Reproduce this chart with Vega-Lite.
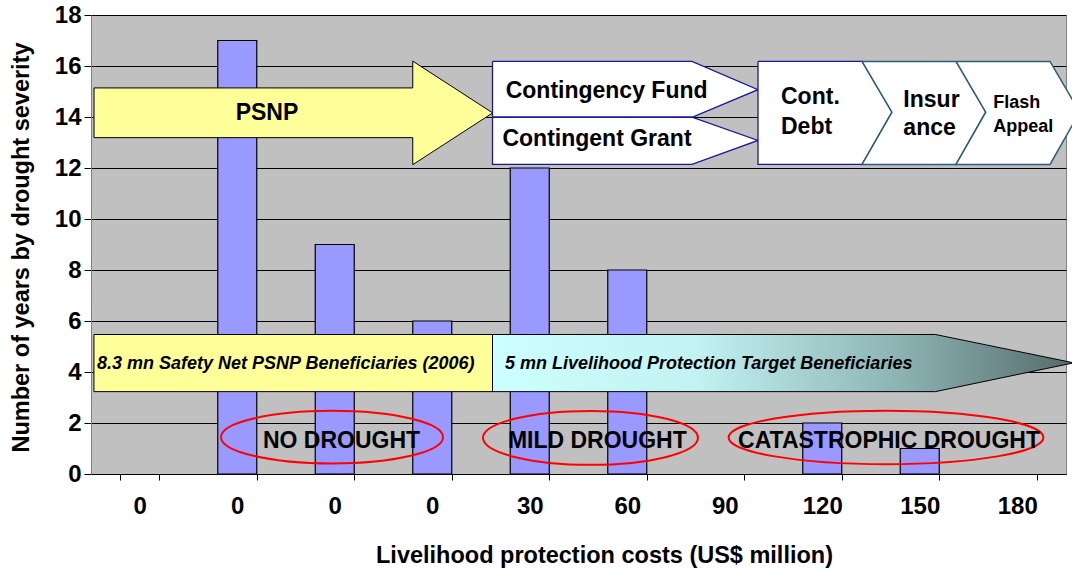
{
  "$schema": "https://vega.github.io/schema/vega-lite/v6.json",
  "width": 975,
  "height": 459,
  "autosize": {"type": "none"},
  "padding": {"left": 91, "top": 15, "right": 6, "bottom": 98},
  "background": "white",
  "config": {
    "view": {"fill": "#C0C0C0", "stroke": "#808080", "strokeWidth": 1},
    "font": "Liberation Sans",
    "axis": {
      "labelFont": "Liberation Sans",
      "titleFont": "Liberation Sans",
      "labelFontWeight": "bold",
      "titleFontWeight": "bold",
      "labelColor": "black",
      "titleColor": "black"
    },
    "axisY": {
      "grid": true,
      "gridColor": "#000000",
      "gridOpacity": 1,
      "gridWidth": 1,
      "domainColor": "#808080",
      "tickColor": "black",
      "tickSize": 7,
      "labelFontSize": 24,
      "labelPadding": 3,
      "titleFontSize": 23.5,
      "titleX": -58,
      "titleY": 232
    },
    "axisX": {
      "grid": false,
      "domainColor": "black",
      "tickColor": "black",
      "tickSize": 6,
      "tickBand": "extent",
      "labelFontSize": 24,
      "labelPadding": 14,
      "labelAngle": 0,
      "titleFontSize": 23.5,
      "titleX": 513,
      "titleY": 69
    }
  },
  "datasets": {
    "bars": [
      {"slot": 1, "cost": "0", "years": 0},
      {"slot": 2, "cost": "0", "years": 17},
      {"slot": 3, "cost": "0", "years": 9},
      {"slot": 4, "cost": "0", "years": 6},
      {"slot": 5, "cost": "30", "years": 12},
      {"slot": 6, "cost": "60", "years": 8},
      {"slot": 7, "cost": "90", "years": 0},
      {"slot": 8, "cost": "120", "years": 2},
      {"slot": 9, "cost": "150", "years": 1},
      {"slot": 10, "cost": "180", "years": 0}
    ],
    "shapes": [
      {"shape": "psnp", "i": 1, "x": 0.031, "y": 15.14},
      {"shape": "psnp", "i": 2, "x": 3.3, "y": 15.14},
      {"shape": "psnp", "i": 3, "x": 3.3, "y": 16.19},
      {"shape": "psnp", "i": 4, "x": 4.12, "y": 14.16},
      {"shape": "psnp", "i": 5, "x": 3.3, "y": 12.13},
      {"shape": "psnp", "i": 6, "x": 3.3, "y": 13.19},
      {"shape": "psnp", "i": 7, "x": 0.031, "y": 13.19},
      {"shape": "psnp", "i": 8, "x": 0.031, "y": 15.14},
      {"shape": "base", "i": 1, "x": 0.03, "y": 5.47},
      {"shape": "base", "i": 2, "x": 4.118, "y": 5.47},
      {"shape": "base", "i": 3, "x": 4.118, "y": 3.23},
      {"shape": "base", "i": 4, "x": 0.03, "y": 3.23},
      {"shape": "base", "i": 5, "x": 0.03, "y": 5.47},
      {"shape": "target", "i": 1, "x": 4.118, "y": 5.47},
      {"shape": "target", "i": 2, "x": 8.66, "y": 5.47},
      {"shape": "target", "i": 3, "x": 10.08, "y": 4.36},
      {"shape": "target", "i": 4, "x": 8.66, "y": 3.23},
      {"shape": "target", "i": 5, "x": 4.118, "y": 3.23},
      {"shape": "target", "i": 6, "x": 4.118, "y": 5.47},
      {"shape": "fund", "i": 1, "x": 4.118, "y": 16.18},
      {"shape": "fund", "i": 2, "x": 6.164, "y": 16.18},
      {"shape": "fund", "i": 3, "x": 6.841, "y": 15.07},
      {"shape": "fund", "i": 4, "x": 6.164, "y": 13.99},
      {"shape": "fund", "i": 5, "x": 4.118, "y": 13.99},
      {"shape": "fund", "i": 6, "x": 4.118, "y": 16.18},
      {"shape": "grant", "i": 1, "x": 4.118, "y": 13.99},
      {"shape": "grant", "i": 2, "x": 6.164, "y": 13.99},
      {"shape": "grant", "i": 3, "x": 6.841, "y": 13.08},
      {"shape": "grant", "i": 4, "x": 6.164, "y": 12.14},
      {"shape": "grant", "i": 5, "x": 4.118, "y": 12.14},
      {"shape": "grant", "i": 6, "x": 4.118, "y": 13.99},
      {"shape": "debt", "i": 1, "x": 6.841, "y": 16.18},
      {"shape": "debt", "i": 2, "x": 7.908, "y": 16.18},
      {"shape": "debt", "i": 3, "x": 8.215, "y": 14.19},
      {"shape": "debt", "i": 4, "x": 7.908, "y": 12.14},
      {"shape": "debt", "i": 5, "x": 6.841, "y": 12.14},
      {"shape": "debt", "i": 6, "x": 6.841, "y": 16.18},
      {"shape": "insur", "i": 1, "x": 7.908, "y": 16.18},
      {"shape": "insur", "i": 2, "x": 8.872, "y": 16.18},
      {"shape": "insur", "i": 3, "x": 9.177, "y": 14.19},
      {"shape": "insur", "i": 4, "x": 8.872, "y": 12.14},
      {"shape": "insur", "i": 5, "x": 7.908, "y": 12.14},
      {"shape": "insur", "i": 6, "x": 8.215, "y": 14.19},
      {"shape": "insur", "i": 7, "x": 7.908, "y": 16.18},
      {"shape": "flash", "i": 1, "x": 8.872, "y": 16.18},
      {"shape": "flash", "i": 2, "x": 9.836, "y": 16.18},
      {"shape": "flash", "i": 3, "x": 10.14, "y": 14.19},
      {"shape": "flash", "i": 4, "x": 9.836, "y": 12.14},
      {"shape": "flash", "i": 5, "x": 8.872, "y": 12.14},
      {"shape": "flash", "i": 6, "x": 9.177, "y": 14.19},
      {"shape": "flash", "i": 7, "x": 8.872, "y": 16.18}
    ],
    "notes": [
      {"group": "psnp", "text": "PSNP", "x": 1.805, "y": 13.89},
      {"group": "box", "text": "Contingency Fund", "x": 4.253, "y": 14.75},
      {"group": "box", "text": "Contingent Grant", "x": 4.22, "y": 12.85},
      {"group": "box", "text": "Cont.", "x": 7.077, "y": 14.51},
      {"group": "box", "text": "Debt", "x": 7.077, "y": 13.32},
      {"group": "box", "text": "Insur", "x": 8.332, "y": 14.41},
      {"group": "box", "text": "ance", "x": 8.332, "y": 13.28},
      {"group": "small", "text": "Flash", "x": 9.253, "y": 14.34},
      {"group": "small", "text": "Appeal", "x": 9.253, "y": 13.41},
      {"group": "band", "text": "8.3 mn Safety Net PSNP Beneficiaries (2006)", "x": 0.062, "y": 4.13},
      {"group": "band", "text": "5 mn Livelihood Protection Target Beneficiaries", "x": 4.246, "y": 4.13}
    ],
    "zones": [
      {"zone": "NO DROUGHT", "x": 2.569, "y": 1.015, "cx": 2.472, "cy": 1.445},
      {"zone": "MILD DROUGHT", "x": 5.193, "y": 1.015, "cx": 5.123, "cy": 1.417},
      {"zone": "CATASTROPHIC DROUGHT", "x": 8.185, "y": 1.015, "cx": 8.154, "cy": 1.433}
    ]
  },
  "resolve": {"scale": {"x": "independent"}, "axis": {"x": "independent"}},
  "layer": [
    {
      "data": {"name": "bars"},
      "transform": [{"filter": "datum.years > 0"}],
      "mark": {"type": "bar", "fill": "#9999FF", "stroke": "black", "strokeWidth": 1.2},
      "encoding": {
        "x": {
          "field": "slot",
          "type": "ordinal",
          "title": "Livelihood protection costs (US$ million)",
          "scale": {"domain": [1, 2, 3, 4, 5, 6, 7, 8, 9, 10], "paddingInner": 0.6, "paddingOuter": 0.3},
          "axis": {"labelExpr": "['0','0','0','0','30','60','90','120','150','180'][datum.value - 1]"}
        },
        "y": {
          "field": "years",
          "type": "quantitative",
          "title": "Number of years by drought severity",
          "scale": {"domain": [0, 18], "nice": false},
          "axis": {"values": [0, 2, 4, 6, 8, 10, 12, 14, 16, 18]}
        }
      }
    },
    {
      "data": {"name": "shapes"},
      "transform": [{"filter": "datum.shape === 'psnp' || datum.shape === 'base'"}],
      "mark": {"type": "line", "fill": "#FFFF99", "stroke": "black", "strokeWidth": 1, "strokeJoin": "miter"},
      "encoding": {
        "x": {"field": "x", "type": "quantitative", "scale": {"domain": [0, 10], "nice": false, "zero": false}, "axis": null},
        "y": {"field": "y", "type": "quantitative", "scale": {"domain": [0, 18], "nice": false}, "title": "Number of years by drought severity"},
        "detail": {"field": "shape"},
        "order": {"field": "i", "type": "quantitative"}
      }
    },
    {
      "data": {"name": "shapes"},
      "transform": [{"filter": "datum.shape === 'target'"}],
      "mark": {
        "type": "line",
        "fill": {
          "gradient": "linear",
          "x1": 0, "y1": 0, "x2": 1, "y2": 0,
          "stops": [
            {"offset": 0, "color": "#CCFFFF"},
            {"offset": 0.35, "color": "#C2F2F2"},
            {"offset": 0.7, "color": "#8DB3B3"},
            {"offset": 1, "color": "#566B6B"}
          ]
        },
        "stroke": "black",
        "strokeWidth": 1,
        "strokeJoin": "miter"
      },
      "encoding": {
        "x": {"field": "x", "type": "quantitative", "scale": {"domain": [0, 10], "nice": false, "zero": false}, "axis": null},
        "y": {"field": "y", "type": "quantitative", "scale": {"domain": [0, 18], "nice": false}, "title": "Number of years by drought severity"},
        "order": {"field": "i", "type": "quantitative"}
      }
    },
    {
      "data": {"name": "shapes"},
      "transform": [{"filter": "datum.shape === 'fund' || datum.shape === 'grant' || datum.shape === 'debt'"}],
      "mark": {"type": "line", "fill": "white", "stroke": "#1A1A99", "strokeWidth": 1.3, "strokeJoin": "miter"},
      "encoding": {
        "x": {"field": "x", "type": "quantitative", "scale": {"domain": [0, 10], "nice": false, "zero": false}, "axis": null},
        "y": {"field": "y", "type": "quantitative", "scale": {"domain": [0, 18], "nice": false}, "title": "Number of years by drought severity"},
        "detail": {"field": "shape"},
        "order": {"field": "i", "type": "quantitative"}
      }
    },
    {
      "data": {"name": "shapes"},
      "transform": [{"filter": "datum.shape === 'insur' || datum.shape === 'flash'"}],
      "mark": {"type": "line", "fill": "white", "stroke": "#2E5C7A", "strokeWidth": 1.5, "strokeJoin": "miter"},
      "encoding": {
        "x": {"field": "x", "type": "quantitative", "scale": {"domain": [0, 10], "nice": false, "zero": false}, "axis": null},
        "y": {"field": "y", "type": "quantitative", "scale": {"domain": [0, 18], "nice": false}, "title": "Number of years by drought severity"},
        "detail": {"field": "shape"},
        "order": {"field": "i", "type": "quantitative"}
      }
    },
    {
      "data": {"name": "zones"},
      "transform": [{"filter": "datum.zone === 'NO DROUGHT'"}],
      "mark": {"type": "point", "shape": "M-1,0A1,0.237,0,1,0,1,0A1,0.237,0,1,0,-1,0Z", "size": 49284, "filled": false, "stroke": "#FF0000", "strokeWidth": 2, "opacity": 1},
      "encoding": {
        "x": {"field": "cx", "type": "quantitative", "scale": {"domain": [0, 10], "nice": false, "zero": false}, "axis": null},
        "y": {"field": "cy", "type": "quantitative", "scale": {"domain": [0, 18], "nice": false}, "title": "Number of years by drought severity"}
      }
    },
    {
      "data": {"name": "zones"},
      "transform": [{"filter": "datum.zone === 'MILD DROUGHT'"}],
      "mark": {"type": "point", "shape": "M-1,0A1,0.251,0,1,0,1,0A1,0.251,0,1,0,-1,0Z", "size": 46225, "filled": false, "stroke": "#FF0000", "strokeWidth": 2, "opacity": 1},
      "encoding": {
        "x": {"field": "cx", "type": "quantitative", "scale": {"domain": [0, 10], "nice": false, "zero": false}, "axis": null},
        "y": {"field": "cy", "type": "quantitative", "scale": {"domain": [0, 18], "nice": false}, "title": "Number of years by drought severity"}
      }
    },
    {
      "data": {"name": "zones"},
      "transform": [{"filter": "datum.zone === 'CATASTROPHIC DROUGHT'"}],
      "mark": {"type": "point", "shape": "M-1,0A1,0.170,0,1,0,1,0A1,0.170,0,1,0,-1,0Z", "size": 99100, "filled": false, "stroke": "#FF0000", "strokeWidth": 2, "opacity": 1},
      "encoding": {
        "x": {"field": "cx", "type": "quantitative", "scale": {"domain": [0, 10], "nice": false, "zero": false}, "axis": null},
        "y": {"field": "cy", "type": "quantitative", "scale": {"domain": [0, 18], "nice": false}, "title": "Number of years by drought severity"}
      }
    },
    {
      "data": {"name": "zones"},
      "mark": {"type": "text", "font": "Liberation Sans", "fontWeight": "bold", "fontSize": 23, "align": "center", "baseline": "alphabetic", "color": "black"},
      "encoding": {
        "x": {"field": "x", "type": "quantitative", "scale": {"domain": [0, 10], "nice": false, "zero": false}, "axis": null},
        "y": {"field": "y", "type": "quantitative", "scale": {"domain": [0, 18], "nice": false}, "title": "Number of years by drought severity"},
        "text": {"field": "zone"}
      }
    },
    {
      "data": {"name": "notes"},
      "transform": [{"filter": "datum.group === 'psnp'"}],
      "mark": {"type": "text", "font": "Liberation Sans", "fontWeight": "bold", "fontSize": 23, "align": "center", "baseline": "alphabetic", "color": "black"},
      "encoding": {
        "x": {"field": "x", "type": "quantitative", "scale": {"domain": [0, 10], "nice": false, "zero": false}, "axis": null},
        "y": {"field": "y", "type": "quantitative", "scale": {"domain": [0, 18], "nice": false}, "title": "Number of years by drought severity"},
        "text": {"field": "text"}
      }
    },
    {
      "data": {"name": "notes"},
      "transform": [{"filter": "datum.group === 'box'"}],
      "mark": {"type": "text", "font": "Liberation Sans", "fontWeight": "bold", "fontSize": 23, "align": "left", "baseline": "alphabetic", "color": "black"},
      "encoding": {
        "x": {"field": "x", "type": "quantitative", "scale": {"domain": [0, 10], "nice": false, "zero": false}, "axis": null},
        "y": {"field": "y", "type": "quantitative", "scale": {"domain": [0, 18], "nice": false}, "title": "Number of years by drought severity"},
        "text": {"field": "text"}
      }
    },
    {
      "data": {"name": "notes"},
      "transform": [{"filter": "datum.group === 'small'"}],
      "mark": {"type": "text", "font": "Liberation Sans", "fontWeight": "bold", "fontSize": 18, "align": "left", "baseline": "alphabetic", "color": "black"},
      "encoding": {
        "x": {"field": "x", "type": "quantitative", "scale": {"domain": [0, 10], "nice": false, "zero": false}, "axis": null},
        "y": {"field": "y", "type": "quantitative", "scale": {"domain": [0, 18], "nice": false}, "title": "Number of years by drought severity"},
        "text": {"field": "text"}
      }
    },
    {
      "data": {"name": "notes"},
      "transform": [{"filter": "datum.group === 'band'"}],
      "mark": {"type": "text", "font": "Liberation Sans", "fontWeight": "bold", "fontStyle": "italic", "fontSize": 18, "align": "left", "baseline": "alphabetic", "color": "black"},
      "encoding": {
        "x": {"field": "x", "type": "quantitative", "scale": {"domain": [0, 10], "nice": false, "zero": false}, "axis": null},
        "y": {"field": "y", "type": "quantitative", "scale": {"domain": [0, 18], "nice": false}, "title": "Number of years by drought severity"},
        "text": {"field": "text"}
      }
    }
  ]
}
